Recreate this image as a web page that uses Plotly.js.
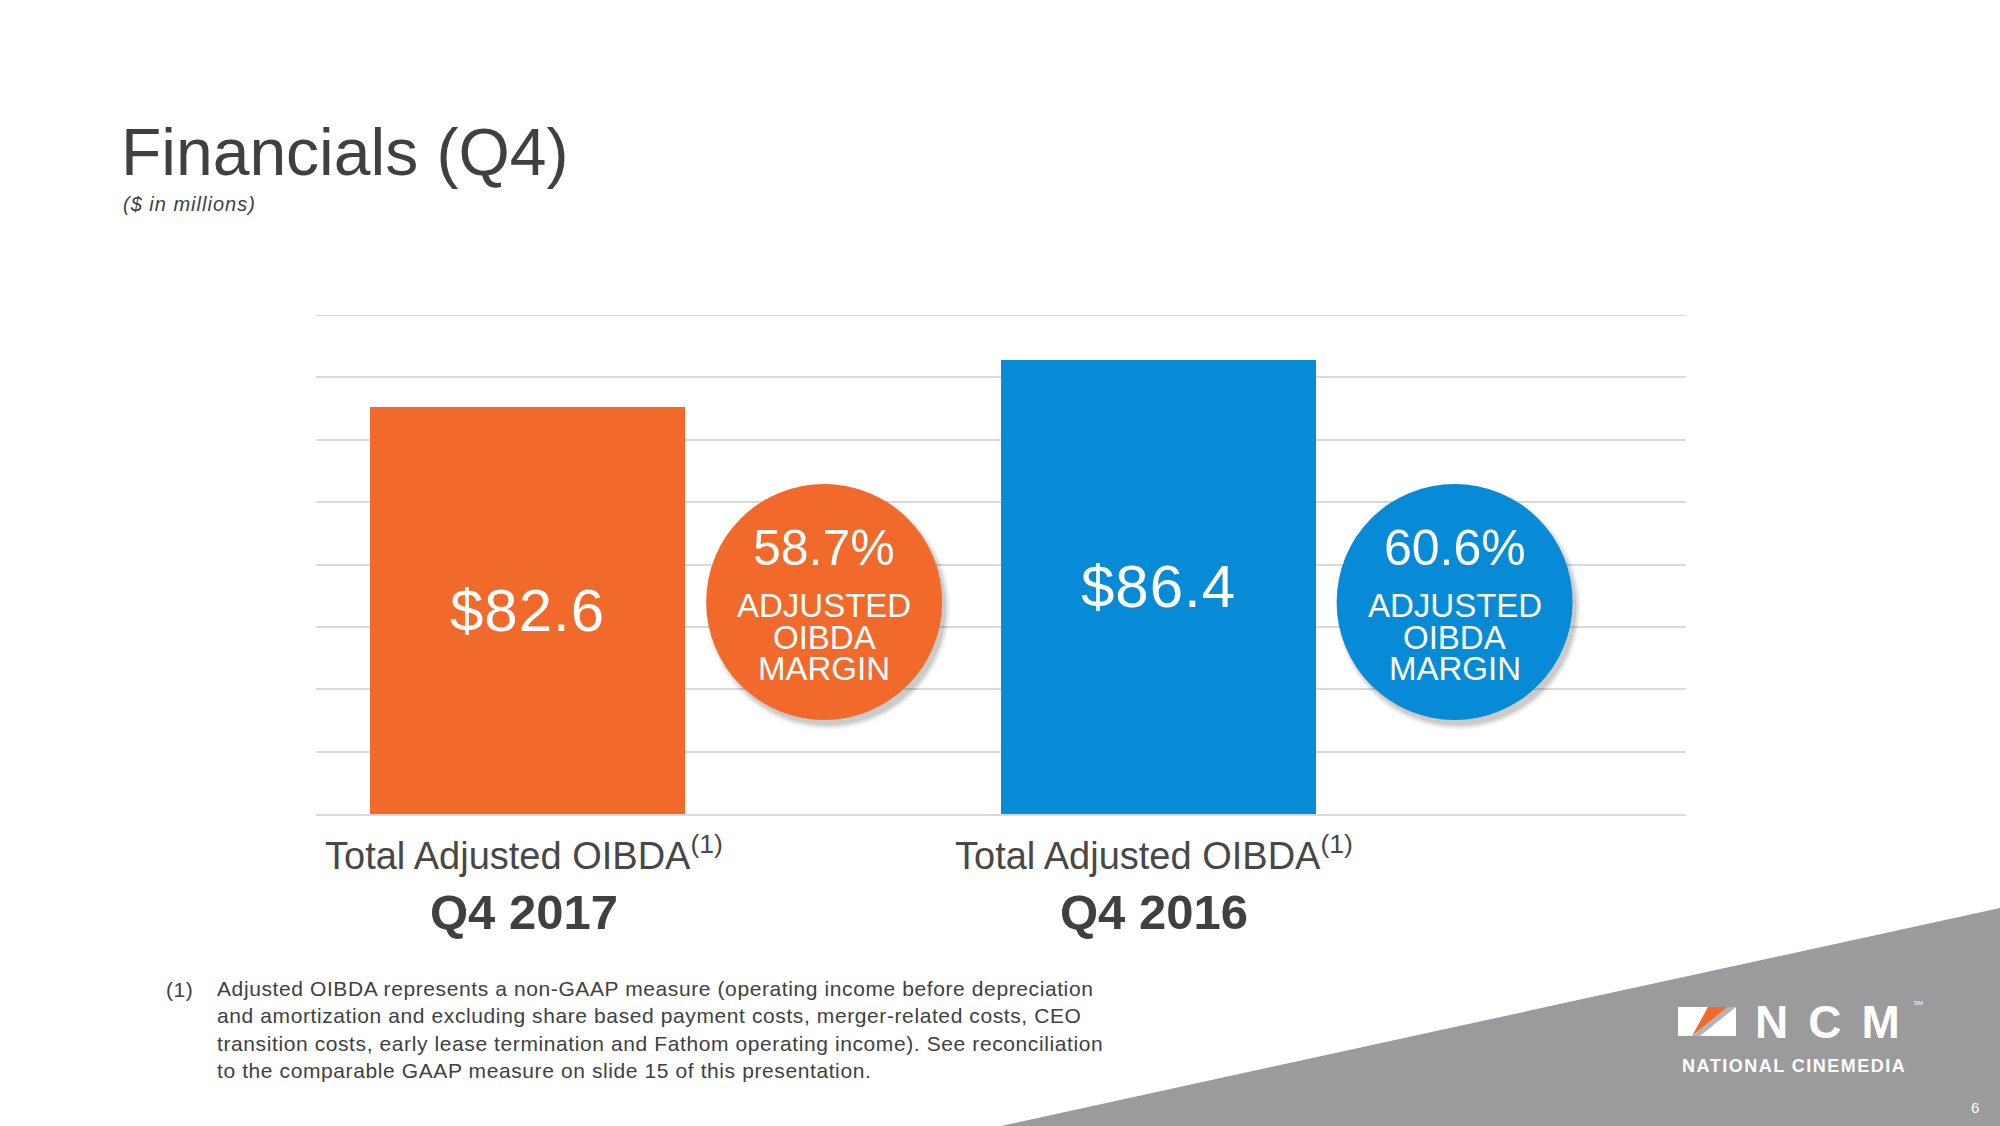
<!DOCTYPE html>
<html><head><meta charset="utf-8">
<script src="https://cdn.plot.ly/plotly-3.0.1.min.js"></script>
<style>html,body{margin:0;padding:0;background:#fff;overflow:hidden}#chart{width:2000px;height:1126px}</style>
</head><body><div id="chart"></div>
<script>
// ---- data ----
const periods = ['Q4 2017', 'Q4 2016'];
const metricLabel = 'Total Adjusted OIBDA<sup>(1)</sup>';
const oibda = [82.6, 86.4];
const margins = [58.7, 60.6];
const marginLabel = ['ADJUSTED', 'OIBDA', 'MARGIN'];
const titleText = 'Financials (Q4)';
const subtitleText = '($ in millions)';
const footnoteMark = '(1)';
const footnoteLines = [
  'Adjusted OIBDA represents a non-GAAP measure (operating income before depreciation',
  'and amortization and excluding share based payment costs, merger-related costs, CEO',
  'transition costs, early lease termination and Fathom operating income). See reconciliation',
  'to the comparable GAAP measure on slide 15 of this presentation.'
];

// ---- styling / layout constants ----
const barColors = ['#F26A2B', '#078BD6'];
const textDark = '#404040';
const gridColor = '#D9D9D9';
const FONT = '"Liberation Sans", Arial, Helvetica, sans-serif';
const W = 2000, H = 1126;
const M = {l: 316, r: 314, t: 315, b: 312};
const pw = W - M.l - M.r, ph = H - M.t - M.b;
const px = x => (x - M.l) / pw;
const py = y => (H - M.b - y) / ph;
const xs = periods.map((_, i) => i);
const yMin = 50, yMax = 90;
const circleOffset = 0.47, circleY = 67, circleSize = 236;

const traces = [];
traces.push({
  type: 'bar', x: xs, y: oibda, width: 0.5,
  marker: {color: barColors}, hoverinfo: 'skip'
});
// soft shadow under circles
[[244, 0.05], [240, 0.07], [236, 0.09]].forEach(([s, o]) => {
  traces.push({
    type: 'scatter', mode: 'markers', hoverinfo: 'skip', cliponaxis: false,
    x: xs.map(v => v + circleOffset + 0.006), y: xs.map(() => circleY - 0.45),
    marker: {size: s, color: 'rgba(0,0,0,' + o + ')', line: {width: 0}}
  });
});
traces.push({
  type: 'scatter', mode: 'markers', hoverinfo: 'skip', cliponaxis: false,
  x: xs.map(v => v + circleOffset), y: xs.map(() => circleY),
  marker: {size: circleSize, color: barColors, line: {width: 0}}
});

const ann = [];
ann.push({xref: 'paper', yref: 'paper', x: px(121), y: py(204), xanchor: 'left', yanchor: 'middle',
  text: '<i><span style="letter-spacing:1px">' + subtitleText + '</span></i>', showarrow: false, font: {family: FONT, size: 20, color: textDark}});
xs.forEach(i => {
  // value label in the middle of the visible bar
  ann.push({xref: 'x', yref: 'y', x: i, y: (yMin + oibda[i]) / 2, xanchor: 'center', yanchor: 'middle',
    text: '<span style="letter-spacing:1px">$' + oibda[i].toFixed(1) + '</span>', showarrow: false,
    font: {family: FONT, size: 60, color: '#ffffff'}});
  ann.push({xref: 'x', yref: 'paper', x: i, y: py(853), xanchor: 'center', yanchor: 'middle', xshift: -4,
    text: metricLabel, showarrow: false, font: {family: FONT, size: 38, color: '#474747'}});
  ann.push({xref: 'x', yref: 'paper', x: i, y: py(912), xanchor: 'center', yanchor: 'middle', xshift: -4,
    text: '<b>' + periods[i] + '</b>', showarrow: false, font: {family: FONT, size: 49, color: textDark}});
  ann.push({xref: 'x', yref: 'y', x: i + circleOffset, y: circleY, yshift: 54, xanchor: 'center', yanchor: 'middle',
    text: margins[i].toFixed(1) + '%', showarrow: false, font: {family: FONT, size: 50, color: '#ffffff'}});
  marginLabel.forEach((t, k) => {
    ann.push({xref: 'x', yref: 'y', x: i + circleOffset, y: circleY, yshift: -4 - 31.5 * k, xanchor: 'center', yanchor: 'middle',
      text: t, showarrow: false, font: {family: FONT, size: 33, color: '#ffffff'}});
  });
});
ann.push({xref: 'paper', yref: 'paper', x: px(164), y: py(989), xanchor: 'left', yanchor: 'middle',
  text: '<span style="letter-spacing:0.6px">' + footnoteMark + '</span>', showarrow: false, font: {family: FONT, size: 21, color: textDark}});
ann.push({xref: 'paper', yref: 'paper', x: px(215), y: py(1029), xanchor: 'left', yanchor: 'middle', align: 'left',
  text: footnoteLines.map(l => '<span style="letter-spacing:0.6px">' + l + '</span>').join('<br>'), showarrow: false,
  font: {family: FONT, size: 21, color: textDark}});
// logo & page number
ann.push({xref: 'paper', yref: 'paper', x: px(1827), y: py(1022), xanchor: 'center', yanchor: 'middle',
  text: '<b><span style="letter-spacing:20px">NC</span>M</b>', showarrow: false, font: {family: FONT, size: 46, color: '#ffffff'}});
ann.push({xref: 'paper', yref: 'paper', x: px(1918), y: py(1003), xanchor: 'center', yanchor: 'middle',
  text: 'SM', showarrow: false, font: {family: FONT, size: 6, color: '#ffffff'}});
ann.push({xref: 'paper', yref: 'paper', x: px(1794), y: py(1066), xanchor: 'center', yanchor: 'middle',
  text: '<b><span style="letter-spacing:1.5px">NATIONAL CINEMEDIA</span></b>', showarrow: false, font: {family: FONT, size: 18, color: '#ffffff'}});
ann.push({xref: 'paper', yref: 'paper', x: px(1975), y: py(1107), xanchor: 'center', yanchor: 'middle',
  text: '6', showarrow: false, font: {family: FONT, size: 15, color: '#ffffff'}});

const P = (x, y) => px(x) + ',' + py(y);
const shapes = [
  // top gridline (plotly drops grid lines sitting on the plot edge)
  {type: 'line', xref: 'paper', yref: 'y', x0: 0, x1: 1, y0: yMax, y1: yMax,
    line: {color: gridColor, width: 2}, layer: 'below'},
  {type: 'path', xref: 'paper', yref: 'paper', path: 'M' + P(1001, 1126) + ' L' + P(2000, 908) + ' L' + P(2000, 1126) + ' Z',
    fillcolor: '#9B9A9D', line: {width: 0}, layer: 'above'},
  {type: 'path', xref: 'paper', yref: 'paper', path: 'M' + P(1678, 1007) + ' L' + P(1736, 1007) + ' L' + P(1736, 1036) + ' L' + P(1678, 1036) + ' Z',
    fillcolor: '#ffffff', line: {width: 0}, layer: 'above'},
  {type: 'path', xref: 'paper', yref: 'paper', path: 'M' + P(1708, 1007) + ' L' + P(1728, 1007) + ' L' + P(1692, 1036) + ' Z',
    fillcolor: '#F26A2B', line: {width: 0}, layer: 'above'},
  {type: 'path', xref: 'paper', yref: 'paper', path: 'M' + P(1728, 1007) + ' L' + P(1736, 1007) + ' L' + P(1700, 1036) + ' L' + P(1692, 1036) + ' Z',
    fillcolor: '#B5B5B7', line: {width: 0}, layer: 'above'}
];

const layout = {
  width: W, height: H, margin: M, paper_bgcolor: '#ffffff', plot_bgcolor: '#ffffff',
  showlegend: false, bargap: 0,
  title: {text: titleText, xref: 'container', yref: 'container', x: 121 / W, y: 1 - 152 / H,
    xanchor: 'left', yanchor: 'middle', font: {family: FONT, size: 66, color: textDark}},
  xaxis: {range: [-0.336, 1.837], showgrid: false, zeroline: false, showticklabels: false, ticks: '',
    showline: true, linecolor: gridColor, linewidth: 2, fixedrange: true},
  yaxis: {range: [yMin, yMax], dtick: 5, tick0: yMin, showgrid: true, gridcolor: gridColor, gridwidth: 2,
    zeroline: false, showticklabels: false, ticks: '', showline: false, fixedrange: true},
  annotations: ann, shapes: shapes
};

Plotly.newPlot('chart', traces, layout, {displayModeBar: false, staticPlot: true});
</script></body></html>
